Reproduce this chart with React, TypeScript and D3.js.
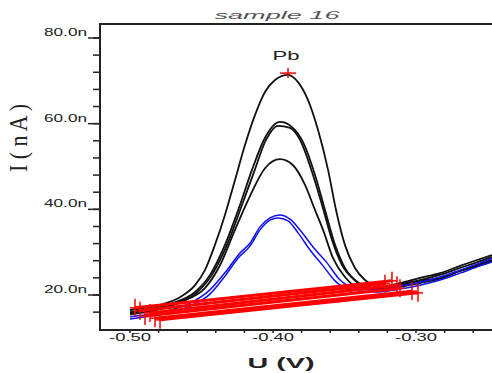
import React from "react";
import * as d3 from "d3";

// ---- data (potential in V, current in nA) ----
const xTickValues = [-0.5, -0.4, -0.3];
const xTickLabels = ["-0.50", "-0.40", "-0.30"];
const yTickValues = [20, 40, 60, 80];
const yTickLabels = ["20.0n", "40.0n", "60.0n", "80.0n"];

const curveTop: [number, number][] = [
  [-0.5, 16.5], [-0.479, 17.7], [-0.465, 19.5], [-0.4545, 22.3], [-0.4476, 25.8],
  [-0.4406, 31.7], [-0.4336, 38.7], [-0.4266, 46.8], [-0.4196, 55.0], [-0.4126, 62.0],
  [-0.4056, 67.4], [-0.3986, 70.2], [-0.3895, 71.4], [-0.3825, 69.7], [-0.3755, 65.5],
  [-0.3685, 58.5], [-0.3615, 49.2], [-0.3559, 39.8], [-0.3497, 31.7], [-0.3427, 26.3],
  [-0.3357, 23.5], [-0.3252, 21.9], [-0.3112, 22.8], [-0.2972, 24.0], [-0.2832, 25.1],
  [-0.2692, 26.8], [-0.2552, 28.4], [-0.2469, 29.3],
];
const curveB1: [number, number][] = [
  [-0.5, 16.0], [-0.472, 17.9], [-0.4545, 20.7], [-0.444, 24.7], [-0.4336, 31.7],
  [-0.4231, 41.0], [-0.4147, 49.2], [-0.4056, 56.7], [-0.3951, 60.4], [-0.3867, 59.2],
  [-0.379, 55.7], [-0.3706, 48.0], [-0.3636, 39.8], [-0.3566, 31.7], [-0.3497, 26.3],
  [-0.3406, 22.8], [-0.3287, 21.2], [-0.3112, 22.6], [-0.2972, 23.5], [-0.2832, 24.7],
  [-0.2692, 26.3], [-0.2552, 27.9], [-0.2469, 28.9],
];
const curveB2: [number, number][] = [
  [-0.5, 15.5], [-0.472, 17.4], [-0.4545, 20.2], [-0.4427, 24.7], [-0.4322, 31.7],
  [-0.4217, 41.0], [-0.4133, 48.7], [-0.4049, 56.2], [-0.3965, 59.5], [-0.3881, 59.0],
  [-0.3811, 56.2], [-0.3727, 48.7], [-0.3657, 41.0], [-0.3587, 32.8], [-0.3517, 27.0],
  [-0.3427, 23.5], [-0.3308, 21.6], [-0.3112, 22.3], [-0.2972, 23.3], [-0.2832, 24.0],
  [-0.2692, 25.6], [-0.2552, 27.0], [-0.2469, 27.9],
];
const curveC: [number, number][] = [
  [-0.5, 15.8], [-0.465, 18.4], [-0.4476, 21.6], [-0.437, 27.0], [-0.4266, 35.2],
  [-0.4161, 43.1], [-0.4056, 49.6], [-0.3951, 51.7], [-0.386, 50.3], [-0.3776, 45.7],
  [-0.3706, 39.8], [-0.365, 35.2], [-0.358, 28.6], [-0.3497, 24.2], [-0.3392, 21.6],
  [-0.3252, 21.4], [-0.3112, 21.9], [-0.2972, 22.8], [-0.2832, 23.8], [-0.2692, 25.6],
  [-0.2552, 27.2], [-0.2469, 28.2],
];
const blue1: [number, number][] = [
  [-0.5, 14.9], [-0.472, 16.5], [-0.458, 18.1], [-0.4441, 21.2], [-0.4322, 25.8],
  [-0.4231, 29.8], [-0.4161, 32.1], [-0.4091, 35.9], [-0.4021, 38.0], [-0.3951, 38.7],
  [-0.3881, 37.7], [-0.3811, 35.2], [-0.372, 31.2], [-0.3622, 27.5], [-0.3531, 23.5],
  [-0.3427, 21.6], [-0.3287, 21.2], [-0.3112, 22.1], [-0.2972, 23.0], [-0.2832, 24.2],
  [-0.2692, 25.8], [-0.2552, 27.5], [-0.2469, 28.6],
];
const blue2: [number, number][] = [
  [-0.5, 14.4], [-0.472, 16.0], [-0.458, 17.4], [-0.4441, 20.2], [-0.4336, 24.4],
  [-0.4245, 28.6], [-0.4161, 31.4], [-0.4091, 35.2], [-0.4021, 37.5], [-0.3965, 38.0],
  [-0.3895, 37.3], [-0.3825, 34.5], [-0.3741, 30.5], [-0.365, 26.8], [-0.3566, 23.3],
  [-0.3462, 21.2], [-0.3287, 20.7], [-0.3112, 21.4], [-0.2972, 22.3], [-0.2832, 23.5],
  [-0.2692, 25.1], [-0.2552, 26.8], [-0.2469, 27.7],
];
// baselines: [startV, startI, endV, endI]
const baselines: [number, number, number, number][] = [
  [-0.4965, 17.0, -0.3168, 23.3],
  [-0.493, 16.3, -0.3217, 22.6],
  [-0.486, 15.8, -0.3133, 22.3],
  [-0.4895, 15.1, -0.3112, 21.6],
  [-0.4825, 14.6, -0.3028, 20.9],
  [-0.479, 14.2, -0.2986, 20.5],
];
const peakLabel = "Pb";
const peakPoint: [number, number] = [-0.3895, 71.8];

const W = 492, H = 373;
const L = 100, R = 492, T = 24, B = 330;

export default function App() {
  const x = d3.scaleLinear().domain([-0.5, -0.3]).range([130, 416]);
  const y = d3.scaleLinear().domain([20, 80]).range([295, 38]);
  const line = d3
    .line<[number, number]>()
    .x((d) => x(d[0]))
    .y((d) => y(d[1]))
    .curve(d3.curveMonotoneX);

  const minorY = d3.range(16, 80.1, 4);
  const minorX = d3.range(-0.52, -0.25, 0.02).filter((v) => x(v) > L + 2 && x(v) < R);

  const blackCurves = [curveTop, curveB1, curveB2, curveC];
  const blueCurves = [blue1, blue2];

  const plus = (cx: number, cy: number, hw: number, hh: number, key: string) => (
    <g key={key} stroke="#ff0000" strokeWidth={1.5}>
      <line x1={cx - hw} x2={cx + hw} y1={cy} y2={cy} />
      <line x1={cx} x2={cx} y1={cy - hh} y2={cy + hh} />
    </g>
  );

  return (
    <svg
      width={W}
      height={H}
      style={{ position: "absolute", left: 0, top: 0, background: "#fff" }}
      fontFamily="'Liberation Sans', Arial, sans-serif"
    >
      <rect x={0} y={0} width={W} height={H} fill="#fff" />
      {/* title */}
      <text
        x={277}
        y={19}
        textAnchor="middle"
        fontSize={11}
        fontStyle="italic"
        fill="#555"
        textLength={125}
        lengthAdjust="spacingAndGlyphs"
      >
        sample 16
      </text>

      {/* curves */}
      <g fill="none" strokeLinejoin="round">
        {blackCurves.map((c, i) => (
          <path key={"k" + i} d={line(c) || ""} stroke="#111" strokeWidth={1.8} />
        ))}
        {blueCurves.map((c, i) => (
          <path key={"b" + i} d={line(c) || ""} stroke="#1010ee" strokeWidth={1.5} />
        ))}
      </g>

      {/* baselines */}
      <g>
        {baselines.map((b, i) => (
          <line
            key={"bl" + i}
            x1={x(b[0])}
            y1={y(b[1])}
            x2={x(b[2])}
            y2={y(b[3])}
            stroke="#ff0000"
            strokeWidth={3}
          />
        ))}
        {baselines.map((b, i) => plus(x(b[0]), y(b[1]), 5, 9, "ps" + i))}
        {baselines.map((b, i) => plus(x(b[2]), y(b[3]), 5, 9, "pe" + i))}
      </g>

      {/* peak marker */}
      {plus(x(peakPoint[0]), y(peakPoint[1]), 8, 5, "pk")}
      <text
        x={x(peakPoint[0]) - 2}
        y={y(peakPoint[1]) - 13}
        textAnchor="middle"
        fontSize={13}
        fill="#222"
        textLength={27}
        lengthAdjust="spacingAndGlyphs"
      >
        {peakLabel}
      </text>

      {/* frame */}
      <g stroke="#222" strokeWidth={2} fill="none">
        <line x1={L} x2={L} y1={T - 1} y2={B + 1} />
        <line x1={L} x2={R} y1={T} y2={T} />
        <line x1={L} x2={R} y1={B} y2={B} />
      </g>

      {/* y ticks */}
      <g stroke="#222" strokeWidth={1.5}>
        {minorY.map((v) => (
          <line key={"ym" + v} x1={L - 7} x2={L} y1={y(v)} y2={y(v)} />
        ))}
        {yTickValues.map((v) => (
          <line key={"yM" + v} x1={L - 12} x2={L} y1={y(v)} y2={y(v)} />
        ))}
      </g>
      <g fontSize={10} fill="#222">
        {yTickValues.map((v, i) => (
          <text
            key={"yl" + v}
            x={87}
            y={y(v) - 2}
            textAnchor="end"
            textLength={43}
            lengthAdjust="spacingAndGlyphs"
          >
            {yTickLabels[i]}
          </text>
        ))}
      </g>

      {/* x ticks */}
      <g stroke="#222" strokeWidth={1.5}>
        {minorX.map((v) => (
          <line key={"xm" + v.toFixed(2)} x1={x(v)} x2={x(v)} y1={B} y2={B + 3} />
        ))}
      </g>
      <g fontSize={10} fill="#222">
        {xTickValues.map((v, i) => (
          <text
            key={"xl" + v}
            x={x(v)}
            y={341}
            textAnchor="middle"
            textLength={42}
            lengthAdjust="spacingAndGlyphs"
          >
            {xTickLabels[i]}
          </text>
        ))}
      </g>

      {/* axis titles */}
      <text
        x={281}
        y={368}
        textAnchor="middle"
        fontSize={14}
        fontWeight="bold"
        fill="#222"
        textLength={67}
        lengthAdjust="spacingAndGlyphs"
      >
        U  (V)
      </text>
      <text
        transform="translate(27,138) rotate(-90)"
        textAnchor="middle"
        fontSize={26}
        fontFamily="'Liberation Serif', 'DejaVu Serif', serif"
        fill="#222"
        textLength={68}
        lengthAdjust="spacingAndGlyphs"
      >
        I ( n A )
      </text>
    </svg>
  );
}
